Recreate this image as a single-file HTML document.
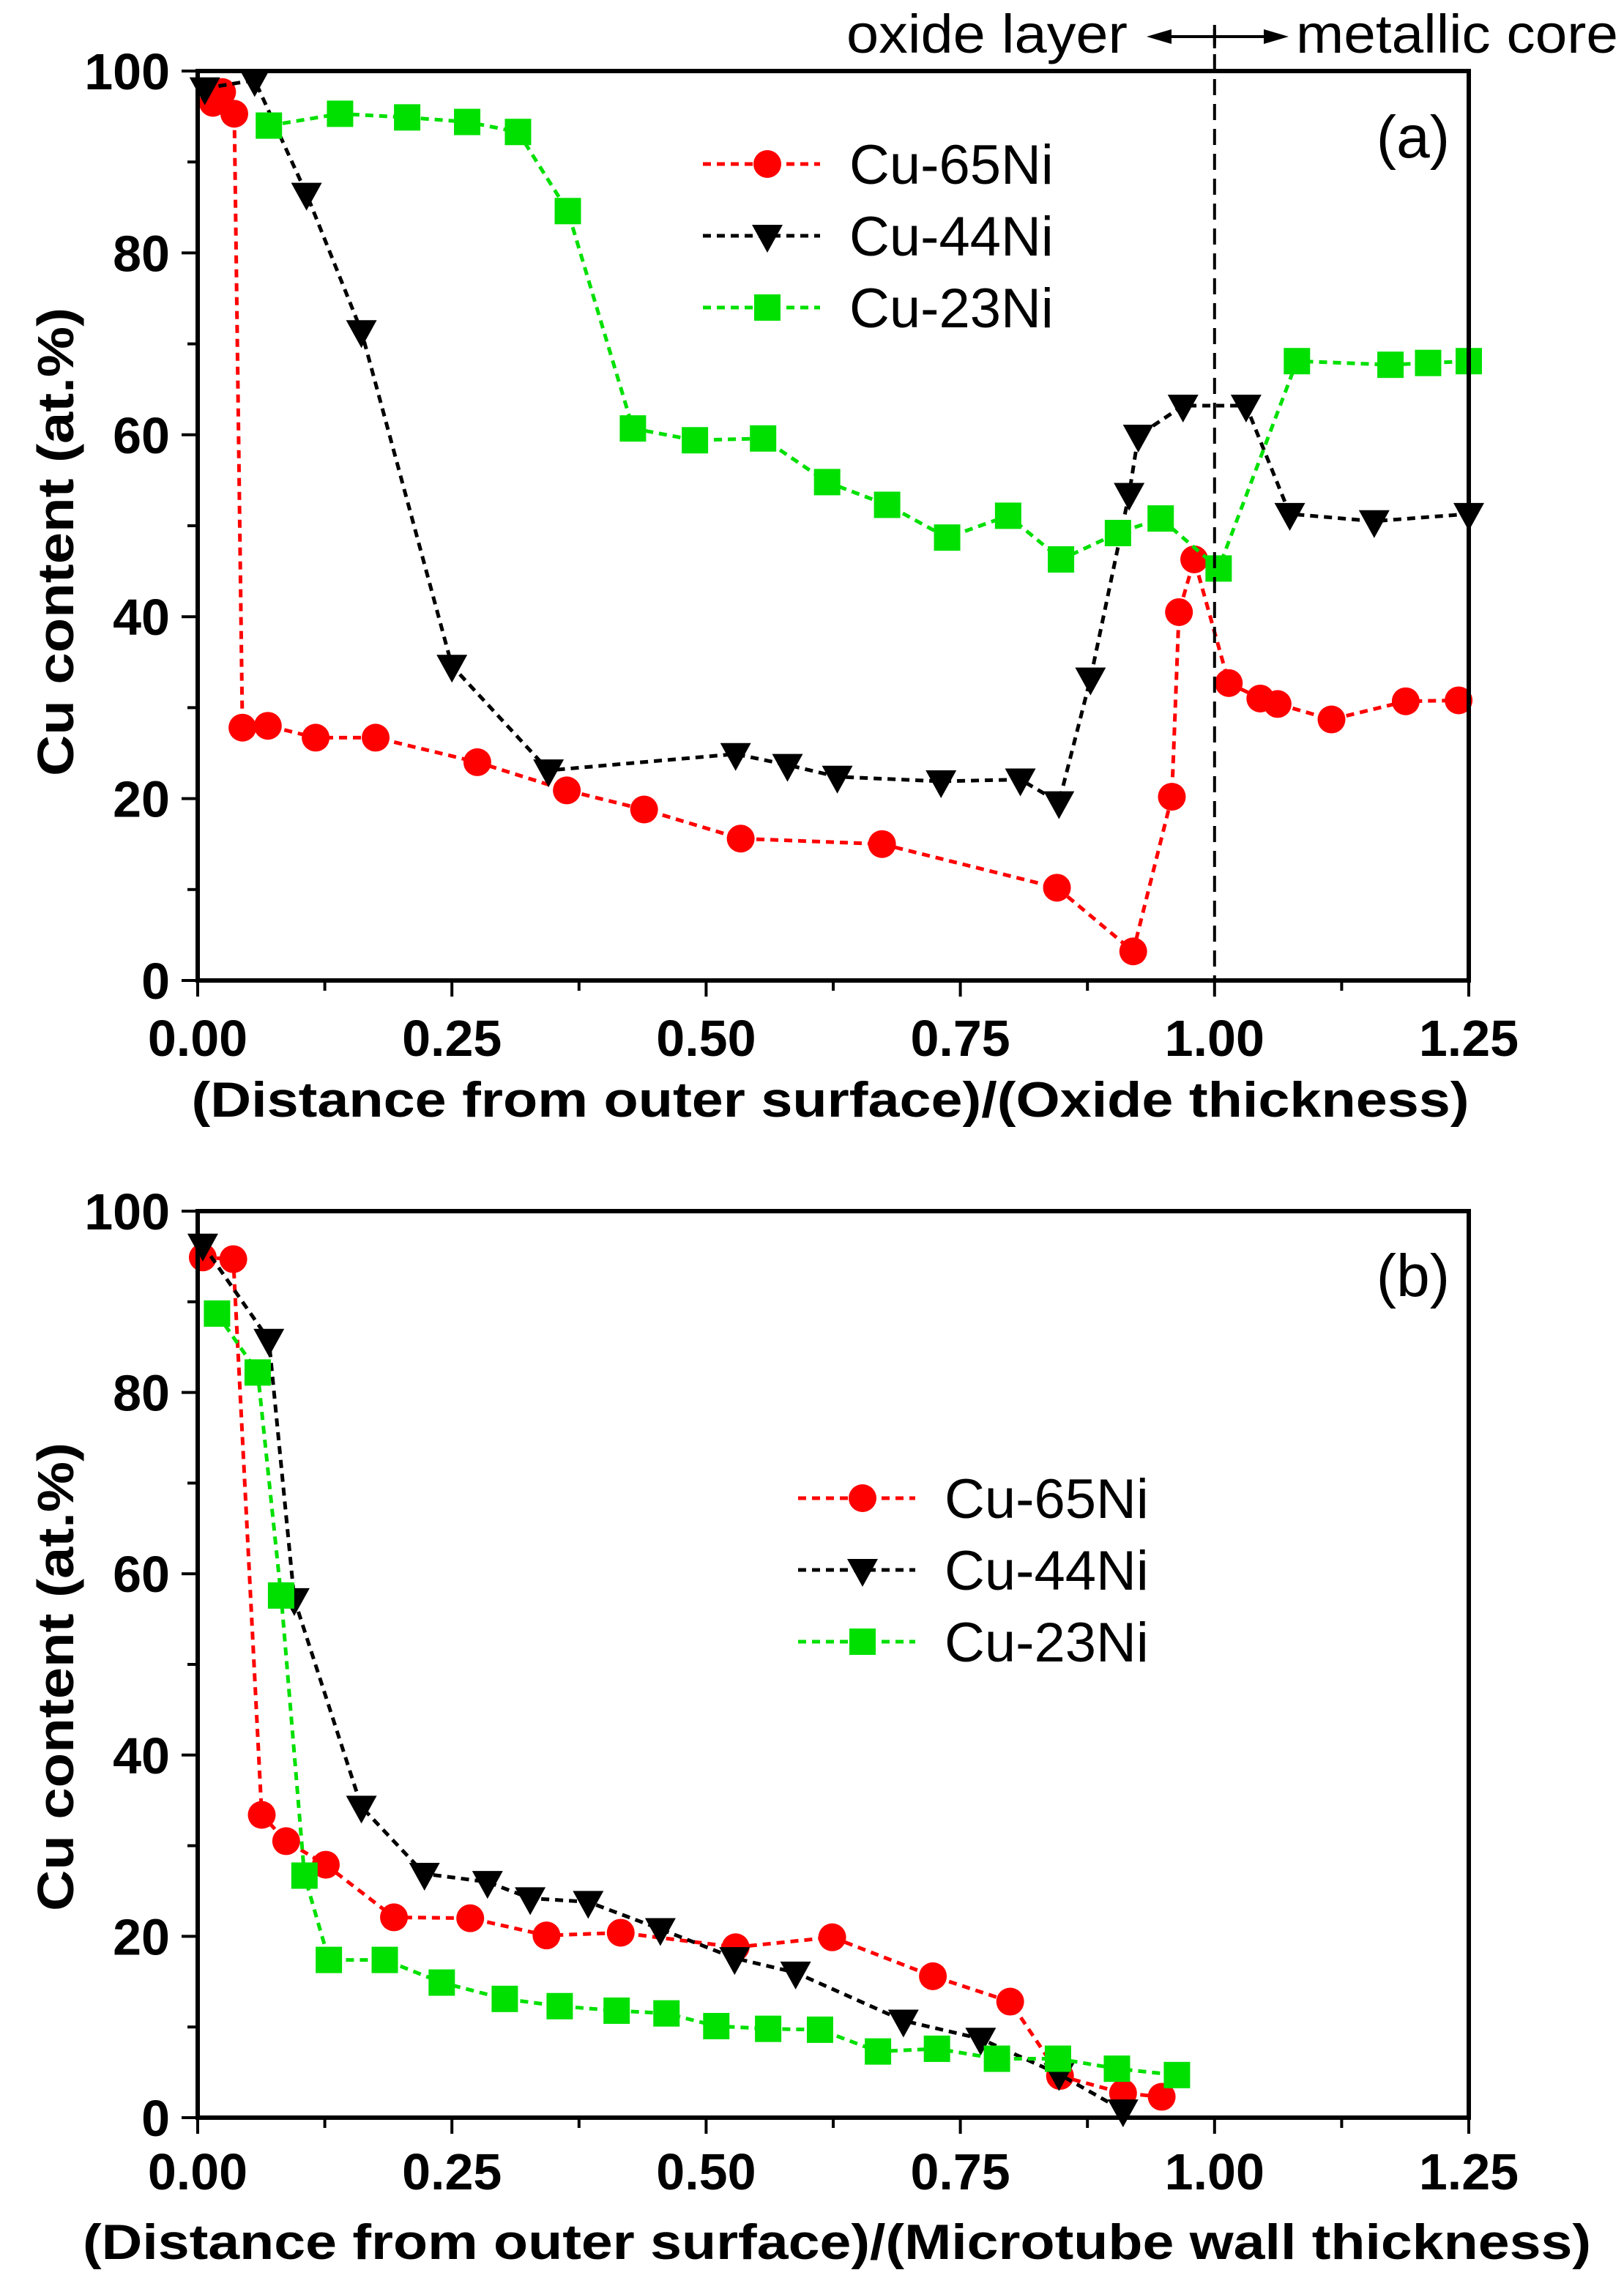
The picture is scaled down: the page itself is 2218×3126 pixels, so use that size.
<!DOCTYPE html>
<html><head><meta charset="utf-8"><style>
html,body{margin:0;padding:0;background:#fff;}
svg{display:block;font-family:"Liberation Sans",Arial,sans-serif;}
</style></head><body>
<svg id="chart" width="2218" height="3126" viewBox="0 0 2218 3126" xmlns="http://www.w3.org/2000/svg"></svg>
<script>
// Panel (a) data
const aRedX=[0.015,0.024,0.036,0.044,0.069,0.116,0.175,0.275,0.363,0.439,0.534,0.673,0.845,0.920,0.958,0.965,0.980,1.014,1.045,1.062,1.115,1.188,1.240];
const aRedY=[96.5,97.7,95.3,27.8,28,26.7,26.7,24,20.9,18.8,15.6,15,10.2,3.2,20.2,40.5,46.3,32.7,31,30.4,28.7,30.7,30.8];
const aBlackX=[0.007,0.056,0.107,0.161,0.250,0.345,0.529,0.580,0.629,0.731,0.809,0.847,0.878,0.916,0.925,0.969,1.031,1.074,1.157,1.25];
const aBlackY=[98.1,99,86.5,71.4,34.6,23.1,24.9,23.7,22.4,21.9,22.1,19.6,33.2,53.5,59.9,63.2,63.2,51.3,50.5,51.3];
const aGreenX=[0.070,0.140,0.206,0.265,0.315,0.364,0.428,0.489,0.556,0.619,0.678,0.737,0.797,0.849,0.905,0.947,1.004,1.081,1.173,1.210,1.25];
const aGreenY=[94,95.3,94.9,94.4,93.3,84.6,60.7,59.4,59.6,54.8,52.3,48.7,51.1,46.3,49.2,50.8,45.3,68.1,67.7,67.9,68.1];
// Panel (b) data
const bRedX=[0.005,0.035,0.063,0.087,0.126,0.193,0.268,0.343,0.416,0.529,0.624,0.723,0.799,0.848,0.910,0.948];
const bRedY=[94.9,94.7,33.4,30.5,27.9,22.1,22,20.1,20.4,18.8,19.9,15.6,12.8,4.6,2.7,2.3];
const bBlackX=[0.005,0.07,0.095,0.161,0.223,0.285,0.327,0.384,0.455,0.528,0.588,0.694,0.770,0.847,0.910];
const bBlackY=[96.3,85.8,57.2,34.3,26.9,26,24.2,23.8,20.8,17.6,16,10.7,8.7,4.8,0.8];
const bGreenX=[0.019,0.059,0.082,0.105,0.129,0.184,0.240,0.302,0.356,0.412,0.461,0.510,0.561,0.612,0.669,0.727,0.786,0.846,0.904,0.963];
const bGreenY=[88.7,82.2,57.6,26.7,17.4,17.4,14.9,13.1,12.3,11.8,11.5,10.1,9.8,9.7,7.3,7.6,6.5,6.5,5.4,4.7];
const xTicks=["0.00","0.25","0.50","0.75","1.00","1.25"];
const yTicks=["0","20","40","60","80","100"];
const seriesNames=["Cu-65Ni","Cu-44Ni","Cu-23Ni"];

const NS="http://www.w3.org/2000/svg";
const svg=document.getElementById('chart');
function mk(tag,attrs,parent){const e=document.createElementNS(NS,tag);for(const k in attrs)e.setAttribute(k,attrs[k]);(parent||svg).appendChild(e);return e;}

const X0=270,X1=2006;
function marker(g,type,x,y,color){
  let m;
  if(type==='circle'){m=mk('circle',{cx:x,cy:y,r:19,fill:color},g);}
  else if(type==='square'){m=mk('rect',{x:x-18,y:y-18,width:36,height:36,fill:color},g);}
  else {m=mk('polygon',{points:`${x-21},${y-15} ${x+21},${y-15} ${x},${y+23}`,fill:color},g);}
  
  
  return m;
}
function panel(id,Ytop,Ybot,series,xTitle,xTitleY,tickY,panelLabel,labelY,legendX,legendY,ytitleY){
  const g=mk('g',{});
  
  
  const sx=v=>X0+(v/1.25)*(X1-X0);
  const sy=v=>Ybot-(v/100)*(Ybot-Ytop);
  series.forEach((s,i)=>{
    const sg=mk('g',{},g);
    
    
    const pts=s.x.map((v,j)=>sx(v)+','+sy(s.y[j])).join(' ');
    const pl=mk('polyline',{points:pts,fill:'none',stroke:s.color,'stroke-width':5,'stroke-dasharray':'11,8'},sg);
    
    
    s.x.forEach((v,j)=>marker(sg,s.type,sx(v),sy(s.y[j]),s.color));
  });
  const fr=mk('rect',{x:X0,y:Ytop,width:X1-X0,height:Ybot-Ytop,fill:'none',stroke:'#000','stroke-width':6},g);
  
  
  for(let k=0;k<=10;k++){
    const x=sx(k*0.125);const major=k%2===0;
    mk('line',{x1:x,y1:Ybot,x2:x,y2:Ybot+(major?22:14),stroke:'#000','stroke-width':4},g);
  }
  xTicks.forEach((t,i)=>{
    const tx=mk('text',{x:sx(i*0.25),y:tickY,'font-size':70,'font-weight':'bold','text-anchor':'middle'},g);
    tx.textContent=t;
    
    
  });
  for(let k=0;k<=10;k++){
    const y=sy(k*10);const major=k%2===0;
    mk('line',{x1:X0,y1:y,x2:X0-(major?22:14),y2:y,stroke:'#000','stroke-width':4},g);
  }
  yTicks.forEach((t,i)=>{
    const ty=mk('text',{x:232,y:sy(i*20)+25,'font-size':70,'font-weight':'bold','text-anchor':'end'},g);
    ty.textContent=t;
    
    
  });
  const xt=mk('text',{x:xTitle.cx,y:xTitleY,'font-size':68,'font-weight':'bold','text-anchor':'middle',textLength:xTitle.len,lengthAdjust:'spacingAndGlyphs'},g);
  xt.textContent=xTitle.text;
  
  
  const yt=mk('text',{x:0,y:0,'font-size':70,'font-weight':'bold','text-anchor':'middle',transform:`translate(100,${ytitleY}) rotate(-90)`,textLength:640,lengthAdjust:'spacingAndGlyphs'},g);
  yt.textContent='Cu content (at.%)';
  
  
  const pl=mk('text',{x:1980,y:labelY,'font-size':82,'text-anchor':'end'},g);
  pl.textContent=panelLabel;
  
  
  const lg=mk('g',{},g);
  
  
  series.forEach((s,i)=>{
    const y=legendY+i*98;
    const e=mk('g',{},lg);
    
    
    mk('line',{x1:legendX,y1:y,x2:legendX+160,y2:y,stroke:s.color,'stroke-width':5,'stroke-dasharray':'11,8'},e);
    marker(e,s.type,legendX+88,y,s.color);
    const t=mk('text',{x:legendX+200,y:y+27,'font-size':76},e);
    t.textContent=seriesNames[i];
  });
  return {sx,sy,g};
}
const pa=panel('a',97,1339,[
  {name:'Cu-65Ni',x:aRedX,y:aRedY,color:'#ff0000',type:'circle'},
  {name:'Cu-44Ni',x:aBlackX,y:aBlackY,color:'#000000',type:'triangle'},
  {name:'Cu-23Ni',x:aGreenX,y:aGreenY,color:'#00e000',type:'square'}],
  {text:'(Distance from outer surface)/(Oxide thickness)',cx:1134,len:1745},1525,1442,'(a)',215,960,224,740);
const pb=panel('b',1654,2892,[
  {name:'Cu-65Ni',x:bRedX,y:bRedY,color:'#ff0000',type:'circle'},
  {name:'Cu-44Ni',x:bBlackX,y:bBlackY,color:'#000000',type:'triangle'},
  {name:'Cu-23Ni',x:bGreenX,y:bGreenY,color:'#00e000',type:'square'}],
  {text:'(Distance from outer surface)/(Microtube wall thickness)',cx:1143,len:2060},3085,2990,'(b)',1770,1090,2046,2290);
const bx=pa.sx(1.0);
const dl=mk('line',{x1:bx,y1:40,x2:bx,y2:1339,stroke:'#000','stroke-width':4,'stroke-dasharray':'22,12'});


const ann=mk('g',{});


const t1=mk('text',{x:1540,y:72,'font-size':74,'text-anchor':'end',textLength:384,lengthAdjust:'spacingAndGlyphs'},ann);t1.textContent='oxide layer';
const t2=mk('text',{x:1770,y:72,'font-size':74,textLength:440,lengthAdjust:'spacingAndGlyphs'},ann);t2.textContent='metallic core';
mk('line',{x1:1580,y1:50,x2:1745,y2:50,stroke:'#000','stroke-width':4},ann);
mk('polygon',{points:'1566,50 1600,40 1600,60',fill:'#000'},ann);
mk('polygon',{points:'1760,50 1726,40 1726,60',fill:'#000'},ann);
mk('line',{x1:bx,y1:34,x2:bx,y2:66,stroke:'#000','stroke-width':4},ann);
</script>
</body></html>
